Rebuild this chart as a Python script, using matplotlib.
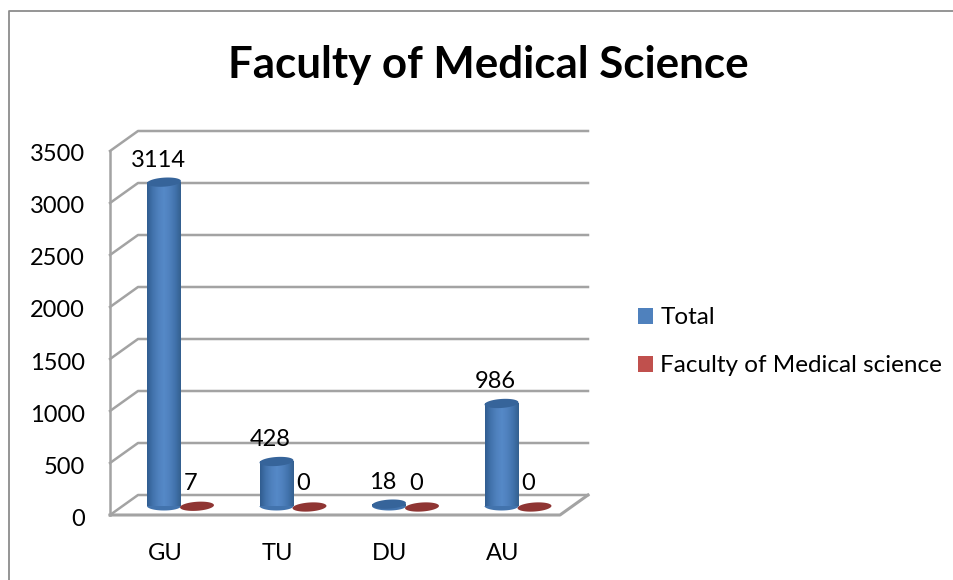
import matplotlib
matplotlib.use('Agg')
import matplotlib.pyplot as plt
from matplotlib.colors import LinearSegmentedColormap
from matplotlib.lines import Line2D
from matplotlib.patches import Patch, Polygon
from matplotlib.transforms import ScaledTranslation
import numpy as np

plt.rcParams['font.family'] = ['Lato', 'DejaVu Sans']

title = 'Faculty of Medical Science'
universities = ['GU', 'TU', 'DU', 'AU']
total = [3114, 428, 18, 986]
medical = [7, 0, 0, 0]
y_ticks = [0, 500, 1000, 1500, 2000, 2500, 3000, 3500]
series_names = ['Total', 'Faculty of Medical science']

W, H = 954, 580
GRID = '#a3a3a3'
BLUE = '#4f81bd'
BLUE_TOP = '#36649a'
RED = '#c0504d'
RED_TOP = '#8f3533'

# plot box in pixels, front wall of the fake 3d frame
L, R, B, T = 110, 560, 515, 151
fig = plt.figure(figsize=(W / 100, H / 100), dpi=100)
ax = fig.add_axes([L / W, (H - B) / H, (R - L) / W, (B - T) / H])
ax.set_xlim(0, 4)
ax.set_ylim(0, 3500)
ax.patch.set_visible(False)
for s in ax.spines.values():
    s.set_visible(False)

# data units per pixel
ux = 4 / (R - L)
uy = 3500 / (B - T)
dx, dy = 28 * ux, 20 * uy
base = 9 * uy
bar_w = 34 * ux
ell_h = 9 * uy
tilt = np.radians(4)

# walls and floor
for v in y_ticks:
    ax.plot([0, dx, 4 + dx], [v, v + dy, v + dy], color=GRID, lw=1.8, clip_on=False, zorder=1)
ax.plot([0, 0], [0, 3500], color=GRID, lw=1.8, clip_on=False, zorder=1)
ax.plot([0, 4, 4 + dx], [0, 0, dy], color=GRID, lw=2.2, clip_on=False, zorder=1)

shade = LinearSegmentedColormap.from_list('cyl', ['#315d90', '#4273ad', BLUE, '#5589c8', BLUE, '#4273ad', '#34608f'])
grad = np.linspace(0, 1, 64).reshape(1, -1)


def tilted_ellipse(xc, yc, colour, z):
    # tilt is done in pixels because the axes are not square
    a = np.linspace(0, 2 * np.pi, 60)
    px = 17 * np.cos(a)
    py = 4.5 * np.sin(a)
    xs = xc + (px * np.cos(tilt) - py * np.sin(tilt)) * ux
    ys = yc + (px * np.sin(tilt) + py * np.cos(tilt)) * uy
    ax.add_patch(Polygon(np.column_stack([xs, ys]), closed=True, facecolor=colour, edgecolor='none',
                         zorder=z, clip_on=False))


def cylinder(xc, value):
    x0, x1 = xc - bar_w / 2, xc + bar_w / 2
    top = base + value
    ax.imshow(grad, extent=[x0, x1, base, top], cmap=shade, aspect='auto', zorder=3, clip_on=False)
    a = np.linspace(np.pi, 2 * np.pi, 30)
    arc = np.column_stack([xc + bar_w / 2 * np.cos(a), base + ell_h / 2 * np.sin(a)])
    ax.add_patch(Polygon(arc, closed=True, facecolor='#4273ad', edgecolor='none', zorder=3, clip_on=False))
    tilted_ellipse(xc, top, BLUE_TOP, 4)


for i in range(len(universities)):
    xb = i + 54 * ux
    xr = i + 87 * ux
    cylinder(xb, total[i])
    tilted_ellipse(xr, base + medical[i] - 1 * uy, RED_TOP, 4)
    ax.annotate(str(total[i]), (xb, base + total[i]), xytext=(-6, 22), textcoords='offset pixels',
                ha='center', va='center', fontsize=17, color='black', zorder=5)
    ax.annotate(str(medical[i]), (xr, base + medical[i]), xytext=(-6, 22), textcoords='offset pixels',
                ha='center', va='center', fontsize=17, color='black', zorder=5)

ax.set_xlim(0, 4)
ax.set_ylim(0, 3500)
ax.set_yticks(y_ticks)
ax.set_xticks([i + 55 * ux for i in range(4)])
ax.set_xticklabels(universities)
ax.tick_params(axis='both', length=0, labelsize=17, colors='black')
ax.tick_params(axis='y', pad=18)
ax.tick_params(axis='x', pad=20)
down = ScaledTranslation(0, -2 / 100, fig.dpi_scale_trans)
for lab in ax.get_yticklabels():
    lab.set_transform(lab.get_transform() + down)

fig.text(488 / W, 1 - 65 / H, title, ha='center', va='center', fontsize=31.6, fontweight='bold', color='black')

for name, colour, y_px in zip(series_names, [BLUE, RED], [318, 366]):
    fig.legend([Patch(facecolor=colour, edgecolor='none')], [name], loc='center left',
               bbox_to_anchor=(638 / W, 1 - y_px / H), frameon=False, fontsize=17.5,
               handlelength=0.62, handleheight=0.62, handletextpad=0.3,
               borderaxespad=0, borderpad=0)

# outer chart border, cropped on the right and bottom
fig.add_artist(Line2D([9 / W, 9 / W, 1], [0, 1 - 11 / H, 1 - 11 / H], color='#8c8c8c', lw=1.3))

fig.savefig('out.png', dpi=100)
